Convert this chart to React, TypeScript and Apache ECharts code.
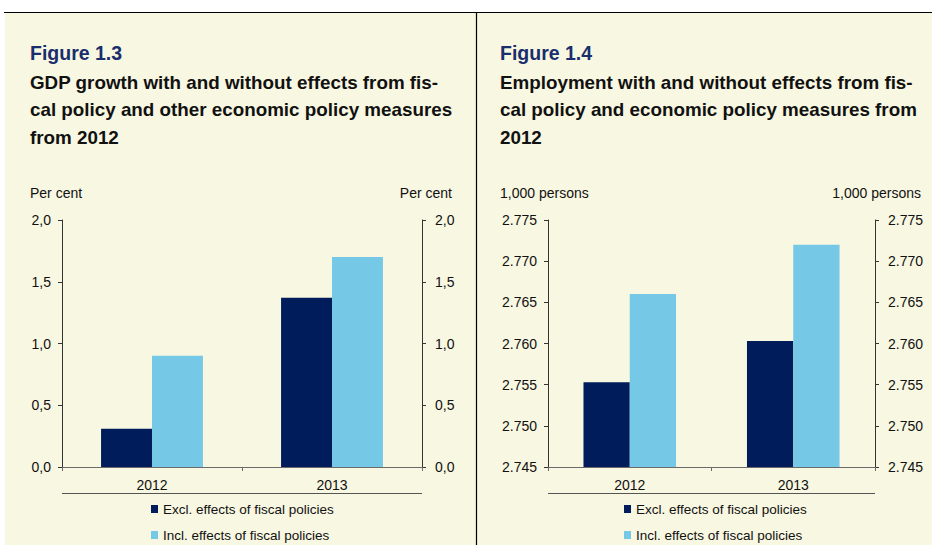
import React, { useEffect, useRef } from "react";
import * as echarts from "echarts";

const categories = ["2012", "2013"];
const seriesNames = ["Excl. effects of fiscal policies", "Incl. effects of fiscal policies"];
const gdpExcl = [0.31, 1.37];
const gdpIncl = [0.9, 1.7];
const empExcl = [2.7553, 2.7603];
const empIncl = [2.766, 2.772];
const gdpAxis = { min: 0, max: 2, interval: 0.5 };
const empAxis = { min: 2.745, max: 2.775, interval: 0.005 };
const leftTitle = ["Figure 1.3", "GDP growth with and without effects from fis-", "cal policy and other economic policy measures", "from 2012"];
const rightTitle = ["Figure 1.4", "Employment with and without effects from fis-", "cal policy and economic policy measures from", "2012"];
const leftUnit = "Per cent";
const rightUnit = "1,000 persons";

const FONT = "'Liberation Sans', Arial, sans-serif";
const DARK = "#001C5A";
const LIGHT = "#75C8E6";
const CREAM = "#F8F7E1";
const TITLE_BLUE = "#1A2E6E";

export default function App() {
  const ref = useRef<HTMLDivElement>(null);
  useEffect(() => {
    if (!ref.current) return;
    const chart = echarts.init(ref.current, null, { renderer: "svg" });

    const grids = [
      { left: 62, top: 220, width: 360, height: 247 },
      { left: 548, top: 220, width: 327, height: 247 },
    ];
    const gdpFmt = (v: number) => v.toFixed(1).replace(".", ",");
    const empFmt = (v: number) => v.toFixed(3);

    const yAxis: any[] = [];
    [0, 1].forEach((g) => {
      const ax = g === 0 ? gdpAxis : empAxis;
      const fmt = g === 0 ? gdpFmt : empFmt;
      ["left", "right"].forEach((pos) => {
        yAxis.push({
          type: "value",
          gridIndex: g,
          position: pos,
          min: ax.min,
          max: ax.max,
          interval: ax.interval,
          splitLine: { show: false },
          axisLine: { show: true, lineStyle: { color: "#333", width: 1 } },
          axisTick: { show: true, length: 4, lineStyle: { color: "#333" } },
          axisLabel: {
            formatter: fmt,
            fontFamily: FONT,
            fontSize: 14,
            color: "#111",
            margin: pos === "left" ? 11 : 13,
          },
        });
      });
    });

    const xAxis = [0, 1].map((g) => ({
      type: "category",
      gridIndex: g,
      data: categories,
      axisLine: { show: true, lineStyle: { color: "#6a6a6a", width: 1 } },
      axisTick: { show: true, length: 4, lineStyle: { color: "#6a6a6a" } },
      axisLabel: { fontFamily: FONT, fontSize: 14, color: "#111", margin: 11 },
      splitLine: { show: false },
    }));

    const mkSeries = (name: string, data: number[], g: number, color: string) => ({
      type: "bar",
      name,
      data,
      xAxisIndex: g,
      yAxisIndex: g * 2,
      barWidth: "28.3%",
      barGap: "0%",
      itemStyle: { color },
      silent: true,
    });

    const legendBase = {
      data: seriesNames,
      orient: "vertical",
      top: 502,
      itemWidth: 7,
      itemHeight: 8,
      itemGap: 12,
      icon: "rect",
      selectedMode: false,
      textStyle: { fontFamily: FONT, fontSize: 13.5, color: "#111" },
      padding: 0,
    };

    const titleTexts = (lines: string[], x: number) => [
      {
        type: "text",
        left: x,
        top: 43,
        style: { text: lines[0], fontFamily: FONT, fontSize: 19.5, fontWeight: "bold", fill: TITLE_BLUE },
      },
      ...[1, 2, 3].map((i) => ({
        type: "text",
        x,
        y: 92 + (i - 1) * 27.5,
        scaleX: 1.075,
        style: {
          text: lines[i],
          fontFamily: FONT,
          fontSize: 17.5,
          fontWeight: "bold",
          fill: "#111",
          textVerticalAlign: "bottom",
        },
      })),
    ];

    const unitText = (text: string, x: number, align: string) => ({
      type: "text",
      x,
      y: 193,
      style: { text, fontFamily: FONT, fontSize: 14, fill: "#111", textAlign: align, textVerticalAlign: "middle" },
    });

    const option: any = {
      animation: false,
      backgroundColor: CREAM,
      grid: grids,
      xAxis,
      yAxis,
      legend: [
        { ...legendBase, left: 151 },
        { ...legendBase, left: 624 },
      ],
      series: [
        mkSeries(seriesNames[0], gdpExcl, 0, DARK),
        mkSeries(seriesNames[1], gdpIncl, 0, LIGHT),
        mkSeries(seriesNames[0], empExcl, 1, DARK),
        mkSeries(seriesNames[1], empIncl, 1, LIGHT),
      ],
      graphic: [
        { type: "rect", shape: { x: 0, y: 0, width: 932, height: 12 }, style: { fill: "#fff" }, silent: true },
        { type: "rect", shape: { x: 0, y: 0, width: 5, height: 545 }, style: { fill: "#fff" }, silent: true },
        { type: "line", shape: { x1: 4, y1: 12.5, x2: 932, y2: 12.5 }, style: { stroke: "#000", lineWidth: 1.2 }, silent: true },
        { type: "line", shape: { x1: 476.5, y1: 12, x2: 476.5, y2: 545 }, style: { stroke: "#000", lineWidth: 1.2 }, silent: true },
        { type: "line", shape: { x1: 62, y1: 493.5, x2: 422, y2: 493.5 }, style: { stroke: "#555", lineWidth: 1 }, silent: true },
        { type: "line", shape: { x1: 548, y1: 493.5, x2: 875, y2: 493.5 }, style: { stroke: "#555", lineWidth: 1 }, silent: true },
        ...titleTexts(leftTitle, 30),
        ...titleTexts(rightTitle, 500),
        unitText(leftUnit, 30, "left"),
        unitText(leftUnit, 452, "right"),
        unitText(rightUnit, 500, "left"),
        unitText(rightUnit, 921, "right"),
      ],
    };
    chart.setOption(option);
    return () => chart.dispose();
  }, []);
  return <div ref={ref} style={{ position: "absolute", left: 0, top: 0, width: 932, height: 545 }} />;
}
